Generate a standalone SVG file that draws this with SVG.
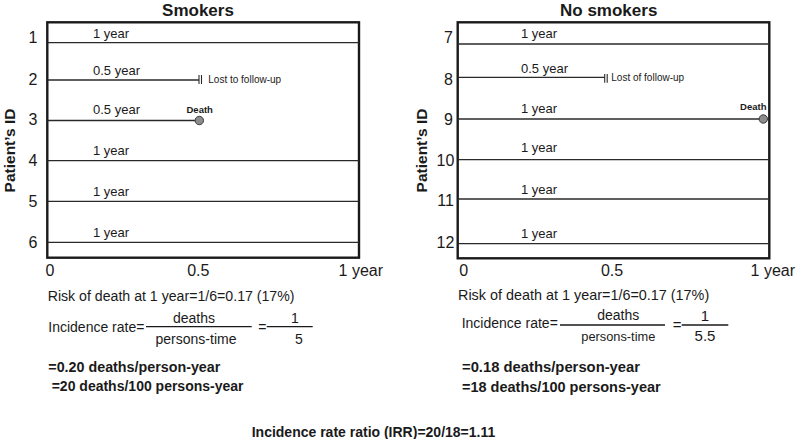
<svg xmlns="http://www.w3.org/2000/svg" width="797" height="439" viewBox="0 0 797 439">
<style>
text{font-family:"Liberation Sans",Arial,sans-serif;fill:#1a1a1a}
.title{font-size:17px;font-weight:bold;text-anchor:middle}
.num{font-size:16px;text-anchor:middle}
.dur{font-size:13px}
.note{font-size:10px}
.death{font-size:9.5px;font-weight:bold;text-anchor:middle}
.axis{font-size:16px;text-anchor:middle}
.ylab{font-size:15.5px;font-weight:bold;text-anchor:middle}
.body{font-size:14px}
.bold{font-size:14px;font-weight:bold}
.box{fill:none;stroke:#1a1a1a;stroke-width:2.4}
.row{stroke:#2a2a2a;stroke-width:1.3;fill:none}
.tick{stroke:#2a2a2a;stroke-width:1.1}
.dot{fill:#8c8c8c;stroke:#3a3a3a;stroke-width:1}
.frac{stroke:#1a1a1a;stroke-width:1.3}
</style>

<g id="smokers">
  <text class="title" x="198" y="15.6">Smokers</text>
  <rect class="box" x="47.3" y="22.3" width="311.7" height="235.4"/>
  <text class="ylab" transform="translate(14.5,150.5) rotate(-90)">Patient’s ID</text>
  <g id="p1"><text class="num" x="33" y="43.3">1</text><line class="row" x1="47.3" y1="42.7" x2="359" y2="42.7"/><text class="dur" x="93" y="37.7">1 year</text></g>
  <g id="p2"><text class="num" x="33" y="85">2</text><line class="row" x1="47.3" y1="80" x2="199" y2="80"/><line class="tick" x1="199" y1="75" x2="199" y2="84"/><line class="tick" x1="201.5" y1="75" x2="201.5" y2="84"/><text class="dur" x="93" y="75">0.5 year</text><text class="note" x="208.3" y="83.3">Lost to follow-up</text></g>
  <g id="p3"><text class="num" x="33" y="125">3</text><line class="row" x1="47.3" y1="120.5" x2="199.3" y2="120.5"/><circle class="dot" cx="199.3" cy="120.5" r="4.2"/><text class="dur" x="93" y="114">0.5 year</text><text class="death" x="199.7" y="113.3">Death</text></g>
  <g id="p4"><text class="num" x="33" y="166">4</text><line class="row" x1="47.3" y1="160.7" x2="359" y2="160.7"/><text class="dur" x="93" y="155">1 year</text></g>
  <g id="p5"><text class="num" x="33" y="206.7">5</text><line class="row" x1="47.3" y1="201.3" x2="359" y2="201.3"/><text class="dur" x="93" y="195.8">1 year</text></g>
  <g id="p6"><text class="num" x="33" y="247.7">6</text><line class="row" x1="47.3" y1="242.3" x2="359" y2="242.3"/><text class="dur" x="93" y="236.8">1 year</text></g>
  <text class="axis" x="50" y="276">0</text>
  <text class="axis" x="198.3" y="276">0.5</text>
  <text class="axis" x="360.8" y="276">1 year</text>
  <text class="body" x="47.7" y="300.7" style="font-size:14.15px">Risk of death at 1 year=1/6=0.17 (17%)</text>
  <text class="body" x="48.3" y="331.7">Incidence rate=</text>
  <line class="frac" x1="146" y1="326.7" x2="251.7" y2="326.7"/>
  <text class="body" x="194" y="323.3" text-anchor="middle">deaths</text>
  <text class="body" x="196" y="344.3" text-anchor="middle">persons-time</text>
  <text class="body" x="258.3" y="331.7">=</text>
  <line class="frac" x1="266.7" y1="326.7" x2="312.7" y2="326.7"/>
  <text class="body" x="295" y="323.3" text-anchor="middle">1</text>
  <text class="body" x="295" y="344">5</text>
  <text class="bold" x="48.3" y="371.7" style="font-size:14.3px">=0.20 deaths/person-year</text>
  <text class="bold" x="51.7" y="390.7">=20 deaths/100 persons-year</text>
</g>

<g id="no-smokers">
  <text class="title" x="608.7" y="15.6">No smokers</text>
  <rect class="box" x="457.7" y="22.3" width="311.6" height="236"/>
  <text class="ylab" transform="translate(427,150.5) rotate(-90)">Patient’s ID</text>
  <g id="p7"><text class="num" x="448.5" y="43.3">7</text><line class="row" x1="457.7" y1="44" x2="769.3" y2="44"/><text class="dur" x="521" y="37.7">1 year</text></g>
  <g id="p8"><text class="num" x="448.5" y="85">8</text><line class="row" x1="457.7" y1="77.3" x2="604.7" y2="77.3"/><line class="tick" x1="604.7" y1="74" x2="604.7" y2="82.7"/><line class="tick" x1="607.2" y1="74" x2="607.2" y2="82.7"/><text class="dur" x="521" y="72.7">0.5 year</text><text class="note" x="611.3" y="81">Lost of follow-up</text></g>
  <g id="p9"><text class="num" x="448.5" y="125">9</text><line class="row" x1="457.7" y1="119" x2="763.3" y2="119"/><circle class="dot" cx="763.3" cy="119" r="4.2"/><text class="dur" x="521" y="113">1 year</text><text class="death" x="753.3" y="110">Death</text></g>
  <g id="p10"><text class="num" x="445.5" y="166">10</text><line class="row" x1="457.7" y1="159.7" x2="769.3" y2="159.7"/><text class="dur" x="521" y="151.7">1 year</text></g>
  <g id="p11"><text class="num" x="445.5" y="206">11</text><line class="row" x1="457.7" y1="199" x2="769.3" y2="199"/><text class="dur" x="521" y="194">1 year</text></g>
  <g id="p12"><text class="num" x="445.5" y="248.3">12</text><line class="row" x1="457.7" y1="243.7" x2="769.3" y2="243.7"/><text class="dur" x="521" y="238.3">1 year</text></g>
  <text class="axis" x="463.7" y="276">0</text>
  <text class="axis" x="612" y="276">0.5</text>
  <text class="axis" x="772.8" y="276">1 year</text>
  <text class="body" x="458" y="300" style="font-size:14.4px">Risk of death at 1 year=1/6=0.17 (17%)</text>
  <text class="body" x="461.7" y="328.3">Incidence rate=</text>
  <line class="frac" x1="560" y1="325" x2="665" y2="325"/>
  <text class="body" x="618.3" y="320" text-anchor="middle">deaths</text>
  <text class="body" x="618.3" y="341" text-anchor="middle" style="font-size:12.8px">persons-time</text>
  <text class="body" x="672.7" y="329.5" style="font-size:15px">=</text>
  <line class="frac" x1="681.7" y1="325" x2="728.3" y2="325"/>
  <text class="body" x="705" y="321" text-anchor="middle" style="font-size:15px">1</text>
  <text class="body" x="705" y="341" text-anchor="middle" style="font-size:15px">5.5</text>
  <text class="bold" x="462" y="371.7" style="font-size:14.8px">=0.18 deaths/person-year</text>
  <text class="bold" x="462" y="391.7" style="font-size:14.5px">=18 deaths/100 persons-year</text>
</g>

<g id="connectors"/>

<g id="irr">
  <text class="bold" x="251.7" y="436.5">Incidence rate ratio (IRR)=20/18=1.11</text>
</g>
</svg>
